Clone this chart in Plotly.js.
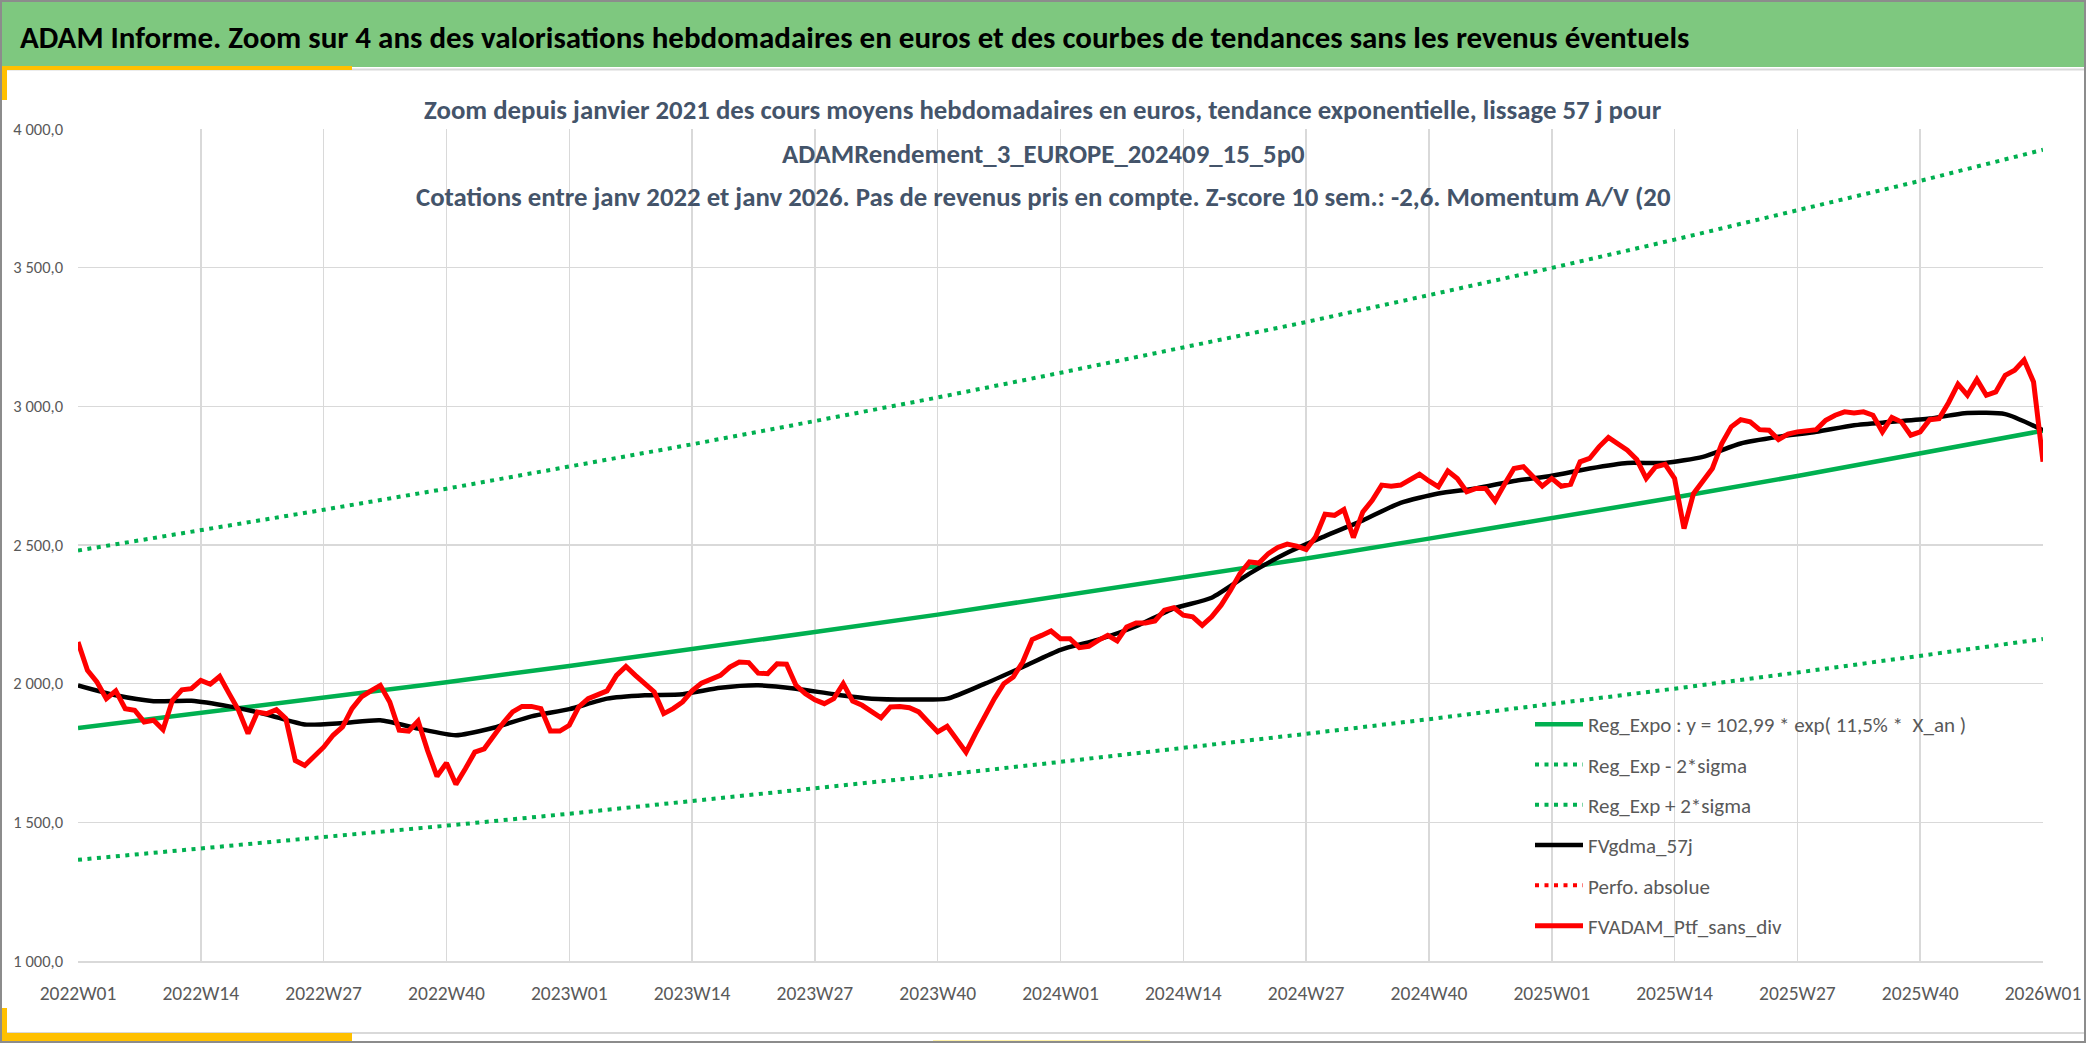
<!DOCTYPE html>
<html>
<head>
<meta charset="utf-8">
<script src="https://cdn.plot.ly/plotly-3.0.1.min.js"></script>
<style>html,body{margin:0;padding:0;background:#fff;}#chart{width:2086px;height:1043px;}</style>
</head>
<body>
<div id="chart"></div>
<script>
// ---- categories (ISO weeks 2022W01 .. 2026W01) ----
const years = [2022, 2023, 2024, 2025];
const weeks = [];
for (const yr of years) { for (let k = 1; k <= 52; k++) weeks.push(yr + 'W' + String(k).padStart(2, '0')); }
weeks.push('2026W01');

// ---- x tick labels ----
const tickLabels = ['2022W01','2022W14','2022W27','2022W40','2023W01','2023W14','2023W27','2023W40',
  '2024W01','2024W14','2024W27','2024W40','2025W01','2025W14','2025W27','2025W40','2026W01'];

// ---- exponential trend and +/- 2 sigma bands, read at each tick label ----
const regExpo = [1840,1894,1949,2005,2064,2124,2186,2249,2315,2382,2451,2523,2596,2671,2749,2829,2912];
const regExpMinus = [1365,1405,1446,1488,1531,1576,1622,1669,1718,1767,1819,1872,1926,1982,2040,2099,2161];
const regExpPlus = [2480,2553,2627,2703,2782,2863,2947,3032,3121,3211,3304,3401,3499,3601,3706,3813,3925];

// ---- smoothed 57 j curve, read every 4 weeks ----
const gdmaWeeks = ['2022W01','2022W05','2022W09','2022W13','2022W17','2022W21','2022W25','2022W29','2022W33','2022W37','2022W41','2022W45','2022W49',
  '2023W01','2023W05','2023W09','2023W13','2023W17','2023W21','2023W25','2023W29','2023W33','2023W37','2023W41','2023W45','2023W49',
  '2024W01','2024W05','2024W09','2024W13','2024W17','2024W21','2024W25','2024W29','2024W33','2024W37','2024W41','2024W45','2024W49',
  '2025W01','2025W05','2025W09','2025W13','2025W17','2025W21','2025W25','2025W29','2025W33','2025W37','2025W41','2025W45','2025W49','2026W01'];
const gdma57 = [1994,1958,1937,1938,1918,1889,1853,1858,1868,1838,1814,1841,1882,
  1908,1946,1958,1962,1985,1994,1982,1962,1946,1943,1946,2000,2060,
  2122,2159,2207,2271,2310,2397,2472,2532,2589,2652,2686,2704,2731,
  2750,2776,2796,2796,2818,2866,2890,2908,2932,2944,2956,2976,2972,2914];

// ---- weekly portfolio values (without dividends) ----
const ptfSansDiv = [
  2150,2048,2006,1946,1974,1910,1904,1862,1868,1834,1940,1978,1982,2012,1998,2026,1964,1904,1820,1898,
  1892,1906,1874,1723,1705,1738,1771,1814,1844,1910,1952,1974,1994,1934,1832,1829,1865,1759,1666,1714,
  1637,1693,1753,1765,1814,1858,1898,1918,1918,1910,1829,1829,
  1850,1916,1946,1962,1974,2030,2062,2030,2000,1970,1892,1910,1934,1974,2002,2014,2030,2060,2078,2076,
  2038,2036,2072,2070,1994,1964,1942,1928,1946,2000,1937,1922,1898,1877,1916,1918,1913,1898,1862,1826,
  1846,1796,1753,1820,1886,1946,2000,2024,2078,2159,2174,2190,
  2162,2162,2130,2135,2156,2174,2154,2204,2219,2219,2226,2265,2274,2247,2241,2210,2241,2283,2337,2397,
  2439,2435,2469,2491,2503,2496,2484,2529,2611,2607,2628,2527,2619,2661,2716,2712,2716,2734,2755,2731,
  2710,2767,2740,2692,2704,2704,2659,2719,2776,2782,2746,2712,
  2740,2712,2719,2800,2812,2854,2888,2866,2842,2808,2740,2782,2791,2740,2559,2685,2728,2776,2866,2926,
  2952,2944,2916,2914,2880,2900,2908,2914,2916,2950,2968,2980,2976,2980,2968,2908,2960,2944,2896,2908,
  2952,2956,3013,3080,3040,3097,3040,3052,3112,3130,3167,3088,
  2800];

const legendNames = ['Reg_Expo : y = 102,99 * exp( 11,5% *  X_an )','Reg_Exp - 2*sigma','Reg_Exp + 2*sigma',
  'FVgdma_57j','Perfo. absolue','FVADAM_Ptf_sans_div'];

const headerText = 'ADAM Informe. Zoom sur 4 ans des valorisations hebdomadaires en euros et des courbes de tendances sans les revenus éventuels';
const subtitleLines = ['Zoom depuis janvier 2021 des cours moyens hebdomadaires en euros, tendance exponentielle, lissage 57 j pour',
  'ADAMRendement_3_EUROPE_202409_15_5p0',
  'Cotations entre janv 2022 et janv 2026. Pas de revenus pris en compte. Z-score 10 sem.: -2,6. Momentum A/V (20'];

// ---- layout geometry (pixels) ----
const W = 2086, H = 1043, L = 78, R = 43, T = 129, B = 82;
const PW = W - L - R, PH = H - T - B;
const px = x => (x - L) / PW;
const py = y => (H - B - y) / PH;

const FONT = "Carlito, 'Liberation Sans Narrow', 'Arial Narrow', 'Open Sans', sans-serif";
const GREEN = '#00b050', RED = '#ff0000', GRID = '#d9d9d9', TXT = '#595959';
const DOTS = '4px,5.5px';

const traces = [
  {x: tickLabels, y: regExpo, name: legendNames[0], mode: 'lines', legendgroup: 'a',
   line: {color: GREEN, width: 4.5}},
  {x: tickLabels, y: regExpMinus, name: legendNames[1], mode: 'lines', legendgroup: 'b',
   line: {color: GREEN, width: 4, dash: DOTS}},
  {x: tickLabels, y: regExpPlus, name: legendNames[2], mode: 'lines', legendgroup: 'c',
   line: {color: GREEN, width: 4, dash: DOTS}},
  {x: gdmaWeeks, y: gdma57, name: legendNames[3], mode: 'lines', legendgroup: 'd',
   line: {color: '#000000', width: 4.5, shape: 'spline', smoothing: 0.6}},
  {x: [weeks[0]], y: [null], name: legendNames[4], mode: 'lines', legendgroup: 'e',
   line: {color: RED, width: 4, dash: DOTS}},
  {x: weeks, y: ptfSansDiv, name: legendNames[5], mode: 'lines', legendgroup: 'f',
   line: {color: RED, width: 5}}
];

const shapes = [
  {type: 'rect', xref: 'paper', yref: 'paper', x0: px(0), x1: px(W), y0: py(2), y1: py(67),
   fillcolor: '#7ec87f', line: {width: 0}, layer: 'below'},
  {type: 'line', xref: 'paper', yref: 'paper', x0: px(0), x1: px(W), y0: py(69.5), y1: py(69.5),
   line: {color: '#d9d9d9', width: 2}},
  {type: 'rect', xref: 'paper', yref: 'paper', x0: px(6), x1: px(352), y0: py(66), y1: py(70),
   fillcolor: '#ffc000', line: {width: 0}},
  {type: 'rect', xref: 'paper', yref: 'paper', x0: px(0), x1: px(7), y0: py(66), y1: py(100),
   fillcolor: '#ffc000', line: {width: 0}},
  {type: 'line', xref: 'paper', yref: 'paper', x0: px(0), x1: px(W), y0: py(1033), y1: py(1033),
   line: {color: '#d9d9d9', width: 2}},
  {type: 'rect', xref: 'paper', yref: 'paper', x0: px(0), x1: px(352), y0: py(1033), y1: py(1043),
   fillcolor: '#ffc000', line: {width: 0}},
  {type: 'rect', xref: 'paper', yref: 'paper', x0: px(0), x1: px(7), y0: py(1008), y1: py(1043),
   fillcolor: '#ffc000', line: {width: 0}},
  {type: 'rect', xref: 'paper', yref: 'paper', x0: px(933), x1: px(1150), y0: py(1040), y1: py(1043),
   fillcolor: '#fff2a8', line: {width: 0}},
  {type: 'rect', xref: 'paper', yref: 'paper', x0: px(1), x1: px(W - 1), y0: py(1), y1: py(H - 1),
   fillcolor: 'rgba(0,0,0,0)', line: {color: '#8c8c8c', width: 2}}
];

const annotations = [
  {xref: 'paper', yref: 'paper', x: px(18), y: py(37), xanchor: 'left', yanchor: 'middle', showarrow: false,
   text: '<b>' + headerText + '</b>', font: {family: FONT, size: 31, color: '#000000'}}
].concat(subtitleLines.map((t, i) => ({
   xref: 'paper', yref: 'paper', x: px(1043), y: py(110 + 43 * i), xanchor: 'center', yanchor: 'middle',
   showarrow: false, text: '<b>' + t + '</b>', font: {family: FONT, size: 26.8, color: '#44546a'}})));

const layout = {
  width: W, height: H,
  margin: {l: L, r: R, t: T, b: B, pad: 0},
  paper_bgcolor: '#ffffff', plot_bgcolor: '#ffffff',
  separators: ', ',
  font: {family: FONT, color: TXT},
  showlegend: true,
  legend: {x: px(1530), y: py(704), xanchor: 'left', yanchor: 'top', bgcolor: 'rgba(0,0,0,0)',
    font: {family: FONT, size: 21, color: TXT}, tracegroupgap: 10, itemwidth: 48, traceorder: 'grouped'},
  xaxis: {type: 'category', categoryorder: 'array', categoryarray: weeks, range: [0, weeks.length - 1],
    tickmode: 'array', tickvals: tickLabels, ticktext: tickLabels,
    showgrid: true, gridcolor: GRID, gridwidth: 1.5, showline: true, linecolor: GRID, linewidth: 2, mirror: false,
    ticks: '', tickfont: {family: FONT, size: 19.5, color: TXT}, ticklabelstandoff: 14, zeroline: false, fixedrange: true},
  yaxis: {range: [1000, 4000], tickmode: 'array', tickvals: [1000,1500,2000,2500,3000,3500,4000],
    tickformat: ',.1f', showgrid: true, gridcolor: GRID, gridwidth: 1.5, showline: false, zeroline: false,
    ticks: '', tickfont: {family: FONT, size: 16.5, color: TXT}, ticklabelstandoff: 14, fixedrange: true},
  shapes: shapes,
  annotations: annotations
};

Plotly.newPlot('chart', traces, layout, {displayModeBar: false, staticPlot: true});
</script>
</body>
</html>
